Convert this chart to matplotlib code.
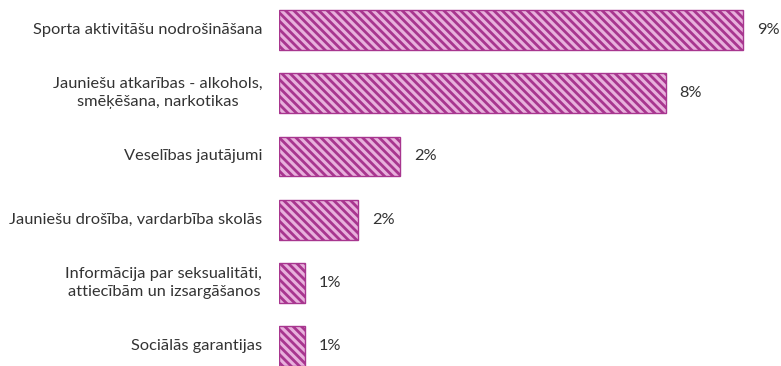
import numpy as np
import matplotlib
matplotlib.use('Agg')
import matplotlib.pyplot as plt

plt.rcParams['font.family'] = ['Lato', 'DejaVu Sans']
plt.rcParams['hatch.linewidth'] = 2.0
plt.rcParams['hatch.color'] = '#b23b9c'

categories = ['Sporta aktivitāšu nodrošināšana',
              'Jauniešu atkarības - alkohols,\nsmēķēšana, narkotikas',
              'Veselības jautājumi',
              'Jauniešu drošība, vardarbība skolās',
              'Informācija par seksualitāti,\nattiecībām un izsargāšanos',
              'Sociālās garantijas']
values = [9.0, 7.5, 2.35, 1.53, 0.5, 0.5]
value_labels = ['9%', '8%', '2%', '2%', '1%', '1%']

W, H = 781, 366
fig = plt.figure(figsize=(W / 100, H / 100), dpi=100)
ax = fig.add_axes([279 / W, 0, (W - 279) / W, 1])

y = np.arange(len(categories))
bars = ax.barh(y, values, height=0.63, left=0, facecolor='#e8b0dc',
               edgecolor='#a8368f', hatch='\\\\\\\\', linewidth=1.0)

ax.set_ylim(5.316, -0.475)
ax.set_xlim(0, (W - 279) / 51.56)
ax.axis('off')

for yi, v, lab in zip(y, values, value_labels):
    ax.text(v + 0.27, yi, lab, va='center', ha='left', fontsize=11.8, color='#333333')

for yi, cat in zip(y, categories):
    ax.annotate(cat, xy=(0, yi), xytext=(-12, 0), textcoords='offset points',
                ha='right', va='center', fontsize=11.8, color='#333333',
                multialignment='center', linespacing=1.35, annotation_clip=False)

fig.savefig('out.png', dpi=100)
